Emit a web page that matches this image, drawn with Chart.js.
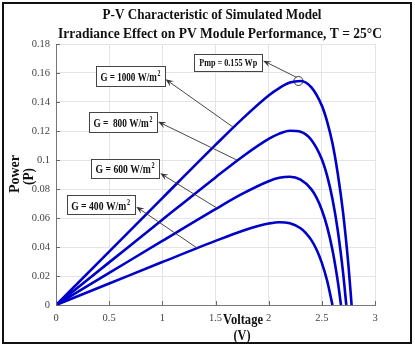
<!DOCTYPE html>
<html>
<head>
<meta charset="utf-8">
<title>P-V Characteristic</title>
<script src="https://cdn.jsdelivr.net/npm/chart.js@4.4.1/dist/chart.umd.min.js"></script>
<style>
    html, body { margin: 0; padding: 0; background: #fff; }
    canvas { display: block; }
</style>
</head>
<body>
<canvas id="pvChart" width="415" height="348" style="width:415px;height:348px"></canvas>
<script>
/* ======================
   DATA
====================== */
const xTicks = [0, 0.5, 1, 1.5, 2, 2.5, 3];
const yTicks = [0, 0.02, 0.04, 0.06, 0.08, 0.1, 0.12, 0.14, 0.16, 0.18];

const v1000 = [0, 0.5, 1, 1.5, 1.75, 2, 2.1, 2.2, 2.3, 2.4, 2.5, 2.55, 2.6, 2.65, 2.7, 2.75, 2.78];
const p1000 = [0, 0.0368, 0.0737, 0.1104, 0.1282, 0.1445, 0.1496, 0.1534, 0.1545, 0.1503, 0.1375, 0.1265, 0.1115, 0.0905, 0.0635, 0.0275, 0];

const v800 = [0, 0.5, 1, 1.5, 1.75, 2, 2.1, 2.2, 2.3, 2.4, 2.5, 2.55, 2.6, 2.65, 2.7, 2.73];
const p800 = [0, 0.0294, 0.0588, 0.0880, 0.1021, 0.1145, 0.1182, 0.1202, 0.1195, 0.1140, 0.1005, 0.0890, 0.0731, 0.0514, 0.0221, 0];

const v600 = [0, 0.5, 1, 1.5, 1.75, 2, 2.1, 2.2, 2.3, 2.4, 2.45, 2.5, 2.55, 2.6, 2.65, 2.68];
const p600 = [0, 0.0221, 0.0442, 0.0661, 0.0766, 0.0854, 0.0877, 0.0884, 0.0864, 0.0799, 0.0740, 0.0655, 0.0539, 0.0379, 0.0163, 0];

const v400 = [0, 0.5, 1, 1.5, 1.75, 1.9, 2, 2.1, 2.2, 2.3, 2.35, 2.4, 2.45, 2.5, 2.55, 2.6];
const p400 = [0, 0.0148, 0.0296, 0.0442, 0.0511, 0.0545, 0.0562, 0.0571, 0.0563, 0.0529, 0.0496, 0.0449, 0.0383, 0.0291, 0.0167, 0];

const pmpV = [2.28];
const pmpP = [0.1545];

/* ======================
   LABEL BOXES (data coords for box centre, arrow tip, arrow tail)
====================== */
const notes = [
    { text: "G = 1000 W/m", sup: "2", box: [0.70, 0.158], w: 69, h: 20, tip: [1.03, 0.1557], tail: [1.665, 0.1227] },
    { text: "G =  800 W/m", sup: "2", box: [0.63, 0.1264], w: 68, h: 20, tip: [0.96, 0.1264], tail: [1.70, 0.1000] },
    { text: "G = 600 W/m", sup: "2", box: [0.65, 0.0943], w: 68, h: 19, tip: [0.98, 0.0908], tail: [1.515, 0.0668] },
    { text: "G = 400 W/m", sup: "2", box: [0.42, 0.0692], w: 68, h: 19, tip: [0.754, 0.0678], tail: [1.327, 0.0393] },
    { text: "Pmp = 0.155 Wp", sup: "", box: [1.62, 0.1674], w: 68, h: 17, small: true, tip: [1.948, 0.1685], tail: [2.262, 0.1570] }
];

const BLUE = "#0000c8";
const SERIF = '"Liberation Serif", "Times New Roman", serif';

function pts(xs, ys) {
    return xs.map((x, i) => ({ x: x, y: ys[i] }));
}

function curve(xs, ys) {
    return {
        data: pts(xs, ys),
        showLine: true,
        borderColor: BLUE,
        borderWidth: 2.6,
        pointRadius: 0,
        cubicInterpolationMode: "monotone",
        fill: false
    };
}

/* ======================
   HELPERS
====================== */
function squeezeText(ctx, str, x, y, maxW) {
    const w = ctx.measureText(str).width;
    const k = w > maxW ? maxW / w : 1;
    ctx.save();
    ctx.translate(x, y);
    ctx.scale(k, 1);
    ctx.fillText(str, 0, 0);
    ctx.restore();
}

function arrow(ctx, x1, y1, x2, y2) {
    const a = Math.atan2(y2 - y1, x2 - x1);
    const len = 8, half = 3.2;
    ctx.beginPath();
    ctx.moveTo(x1, y1);
    ctx.lineTo(x2 - Math.cos(a) * len * 0.6, y2 - Math.sin(a) * len * 0.6);
    ctx.stroke();
    ctx.beginPath();
    ctx.moveTo(x2, y2);
    ctx.lineTo(x2 - Math.cos(a) * len - Math.sin(a) * half, y2 - Math.sin(a) * len + Math.cos(a) * half);
    ctx.lineTo(x2 - Math.cos(a) * len * 0.6, y2 - Math.sin(a) * len * 0.6);
    ctx.lineTo(x2 - Math.cos(a) * len + Math.sin(a) * half, y2 - Math.sin(a) * len - Math.cos(a) * half);
    ctx.closePath();
    ctx.fill();
}

/* ======================
   DECORATION PLUGIN
====================== */
const decor = {
    id: "decor",
    beforeDraw(chart) {
        const ctx = chart.ctx;
        ctx.save();
        ctx.fillStyle = "#fff";
        ctx.fillRect(0, 0, chart.width, chart.height);
        ctx.restore();
    },
    afterDraw(chart) {
        const ctx = chart.ctx;
        const xs = chart.scales.x, ys = chart.scales.y;
        const area = chart.chartArea;

        ctx.save();

        /* inward tick marks */
        ctx.strokeStyle = "#666";
        ctx.lineWidth = 1;
        xTicks.forEach(v => {
            const px = Math.round(xs.getPixelForValue(v)) + 0.5;
            ctx.beginPath();
            ctx.moveTo(px, area.bottom);
            ctx.lineTo(px, area.bottom - 4);
            ctx.stroke();
        });
        yTicks.forEach(v => {
            const py = Math.round(ys.getPixelForValue(v)) + 0.5;
            ctx.beginPath();
            ctx.moveTo(area.left, py);
            ctx.lineTo(area.left + 4, py);
            ctx.stroke();
        });

        /* titles */
        ctx.fillStyle = "#111";
        ctx.textAlign = "center";
        ctx.textBaseline = "alphabetic";
        ctx.font = "bold 15px " + SERIF;
        squeezeText(ctx, "P-V Characteristic of Simulated Model", 212, 18.5, 219);
        squeezeText(ctx, "Irradiance Effect on PV Module Performance, T = 25°C", 220, 37.5, 324);

        /* axis titles */
        ctx.font = "bold 14px " + SERIF;
        squeezeText(ctx, "Voltage", 243, 324, 40);
        squeezeText(ctx, "(V)", 242, 340, 17);

        ctx.save();
        ctx.translate(0, 0);
        ctx.rotate(-Math.PI / 2);
        ctx.font = "bold 14px " + SERIF;
        squeezeText(ctx, "Power", -174, 19, 38);
        squeezeText(ctx, "(P)", -176.5, 33, 17);
        ctx.restore();

        /* label boxes with arrows */
        notes.forEach(n => {
            const cx = xs.getPixelForValue(n.box[0]);
            const cy = ys.getPixelForValue(n.box[1]);

            ctx.strokeStyle = "#333";
            ctx.fillStyle = "#333";
            ctx.lineWidth = 0.9;
            arrow(ctx,
                xs.getPixelForValue(n.tail[0]), ys.getPixelForValue(n.tail[1]),
                xs.getPixelForValue(n.tip[0]), ys.getPixelForValue(n.tip[1]));

            const bx = Math.round(cx - n.w / 2) + 0.5;
            const by = Math.round(cy - n.h / 2) + 0.5;
            ctx.fillStyle = "#fff";
            ctx.fillRect(bx, by, n.w, n.h);
            ctx.strokeStyle = "#444";
            ctx.lineWidth = 1;
            ctx.strokeRect(bx, by, n.w, n.h);

            ctx.fillStyle = "#111";
            const mainFont = (n.small ? "bold 11px " : "bold 12.5px ") + SERIF;
            const supFont = "bold 8px " + SERIF;
            ctx.font = mainFont;
            const mw = ctx.measureText(n.text).width;
            ctx.font = supFont;
            const sw = n.sup ? ctx.measureText(n.sup).width + 1 : 0;
            const total = mw + sw;
            const maxW = n.w - (n.small ? 10 : 9);
            const k = total > maxW ? maxW / total : 1;

            ctx.save();
            ctx.translate(cx, cy + (n.small ? 4 : 5));
            ctx.scale(k, 1);
            ctx.textAlign = "left";
            ctx.font = mainFont;
            ctx.fillText(n.text, -total / 2, 0);
            if (n.sup) {
                ctx.font = supFont;
                ctx.fillText(n.sup, -total / 2 + mw + 1, -5);
            }
            ctx.restore();
        });

        /* outer frame */
        ctx.strokeStyle = "#111";
        ctx.lineWidth = 2;
        ctx.strokeRect(3, 3, 408, 340);

        ctx.restore();
    }
};

/* ======================
   CHART
====================== */
const tickFont = { family: SERIF, size: 10.5 };

new Chart(document.getElementById("pvChart"), {
    type: "scatter",
    data: {
        datasets: [
            curve(v1000, p1000),
            curve(v800, p800),
            curve(v600, p600),
            curve(v400, p400),
            {
                data: pts(pmpV, pmpP),
                showLine: false,
                pointStyle: "circle",
                pointRadius: 4.5,
                pointBorderColor: "#222",
                pointBorderWidth: 0.9,
                pointBackgroundColor: "rgba(0,0,0,0)"
            }
        ]
    },
    plugins: [decor],
    options: {
        responsive: false,
        animation: false,
        devicePixelRatio: 1,
        layout: { padding: { top: 44, right: 40, left: 0, bottom: 0 } },
        plugins: {
            legend: { display: false },
            tooltip: { enabled: false }
        },
        scales: {
            x: {
                type: "linear",
                min: 0,
                max: 3,
                afterBuildTicks: s => { s.ticks = xTicks.map(v => ({ value: v })); },
                afterFit: s => { s.height = 43; },
                ticks: {
                    font: tickFont,
                    color: "#444",
                    padding: 7,
                    maxRotation: 0,
                    callback: v => String(+v.toFixed(2))
                },
                grid: { color: "#e4e4e4", drawTicks: false },
                border: { color: "#777" }
            },
            y: {
                type: "linear",
                min: 0,
                max: 0.18,
                afterBuildTicks: s => { s.ticks = yTicks.map(v => ({ value: v })); },
                afterFit: s => { s.width = 56; },
                ticks: {
                    font: tickFont,
                    color: "#444",
                    padding: 6,
                    callback: v => String(+v.toFixed(2))
                },
                grid: { color: "#e4e4e4", drawTicks: false },
                border: { color: "#777" }
            }
        }
    }
});
</script>
</body>
</html>
